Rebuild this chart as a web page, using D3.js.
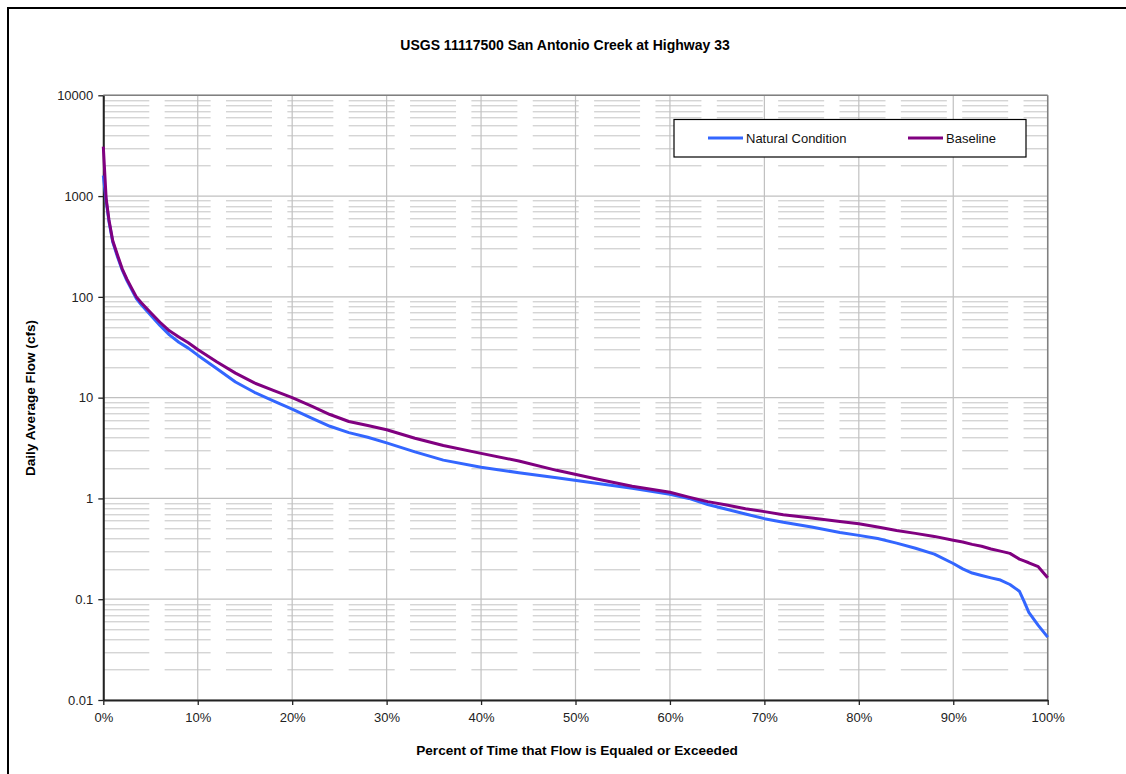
<!DOCTYPE html>
<html>
<head>
<meta charset="utf-8">
<script src="https://cdn.jsdelivr.net/npm/d3@7"></script>
<style>
  body { margin: 0; background: #fff; }
  svg { display: block; font-family: Arial, "Liberation Sans", sans-serif; }
</style>
</head>
<body>
<svg id="chart"></svg>
<script>
// percent of time (x) and flows (cfs)
var pct = [0, 0.3, 0.6, 1, 1.5, 2, 2.5, 3, 3.5, 4, 5, 6, 7, 8, 9, 10, 12, 14, 16, 18, 20, 22, 24, 26, 28, 30, 33, 36, 40, 44, 48, 52, 56, 60, 62, 64, 66, 68, 70, 72, 75, 78, 80, 82, 84, 86, 88, 90, 91, 92, 93, 94, 95, 96, 97, 97.5, 98, 99, 100];
var natural = [1600, 900, 560, 350, 250, 185, 145, 118, 96, 84, 66, 52, 42, 35.5, 31, 26.4, 19.5, 14.3, 11.3, 9.3, 7.7, 6.3, 5.2, 4.5, 4.05, 3.56, 2.9, 2.4, 2.04, 1.8, 1.6, 1.42, 1.26, 1.1, 1.0, 0.87, 0.78, 0.7, 0.63, 0.58, 0.52, 0.46, 0.43, 0.4, 0.36, 0.32, 0.28, 0.226, 0.2, 0.182, 0.172, 0.163, 0.155, 0.14, 0.12, 0.095, 0.074, 0.055, 0.042];
var baseline = [3100, 950, 580, 360, 260, 190, 150, 122, 100, 88, 70, 56, 46, 40, 35, 30, 22.7, 17.5, 14, 11.8, 10, 8.3, 6.8, 5.8, 5.3, 4.8, 3.95, 3.35, 2.8, 2.35, 1.9, 1.58, 1.32, 1.15, 1.03, 0.93, 0.86, 0.79, 0.74, 0.69, 0.64, 0.59, 0.56, 0.52, 0.48, 0.45, 0.42, 0.385, 0.37, 0.35, 0.335, 0.315, 0.3, 0.285, 0.25, 0.24, 0.23, 0.21, 0.163];

var yTicks = [0.01, 0.1, 1, 10, 100, 1000, 10000];
var xTicks = [0, 10, 20, 30, 40, 50, 60, 70, 80, 90, 100];

var series = [
  { name: "Natural Condition", values: natural, color: "#3366ff" },
  { name: "Baseline", values: baseline, color: "#800080" }
];

var W = 1126, H = 774;
var margin = { top: 95.3, right: 78.3, bottom: 74, left: 103.3 };
var width = W - margin.left - margin.right,
    height = H - margin.top - margin.bottom;

var svg = d3.select("#chart").attr("width", W).attr("height", H);

// outer frame
svg.append("rect")
  .attr("x", 8).attr("y", 8)
  .attr("width", 1140).attr("height", 800)
  .attr("fill", "none").attr("stroke", "#000").attr("stroke-width", 2);

var g = svg.append("g")
  .attr("transform", "translate(" + margin.left + "," + margin.top + ")");

var x = d3.scaleLinear().domain([0, 100]).range([0, width]);
var y = d3.scaleLog().domain([0.01, 10000]).range([height, 0]);

// minor horizontal gridlines (dashed)
var minor = [];
yTicks.slice(0, -1).forEach(function(d) {
  for (var k = 2; k <= 9; k++) minor.push(d * k);
});
g.selectAll(".minor").data(minor).enter().append("line")
  .attr("class", "minor")
  .attr("x1", 0).attr("x2", width)
  .attr("y1", function(d) { return Math.round(y(d)) + 0.5; })
  .attr("y2", function(d) { return Math.round(y(d)) + 0.5; })
  .attr("stroke", "#c4c4c4").attr("stroke-width", 1)
  .attr("stroke-dasharray", "46,15.35");

// major gridlines
g.selectAll(".hmaj").data(yTicks).enter().append("line")
  .attr("x1", 0).attr("x2", width)
  .attr("y1", function(d) { return y(d); })
  .attr("y2", function(d) { return y(d); })
  .attr("stroke", "#c0c0c0").attr("stroke-width", 1.2);
g.selectAll(".vmaj").data(xTicks).enter().append("line")
  .attr("x1", function(d) { return x(d); }).attr("x2", function(d) { return x(d); })
  .attr("y1", 0).attr("y2", height)
  .attr("stroke", "#c0c0c0").attr("stroke-width", 1.2);

// plot border top/right
g.append("line").attr("x1", 0).attr("x2", width).attr("y1", 0).attr("y2", 0)
  .attr("stroke", "#808080").attr("stroke-width", 1.5);
g.append("line").attr("x1", width).attr("x2", width).attr("y1", 0).attr("y2", height)
  .attr("stroke", "#808080").attr("stroke-width", 1.5);

// axes
var yAxis = g.append("g")
  .call(d3.axisLeft(y).tickValues(yTicks).tickFormat(function(d) { return String(d); }).tickSize(5).tickSizeOuter(0));
var xAxis = g.append("g")
  .attr("transform", "translate(0," + height + ")")
  .call(d3.axisBottom(x).tickValues(xTicks).tickFormat(function(d) { return d + "%"; }).tickSize(5).tickSizeOuter(0));
[yAxis, xAxis].forEach(function(a) {
  a.select(".domain").attr("stroke", "#222").attr("stroke-width", 2);
  a.selectAll(".tick line").attr("stroke", "#222").attr("stroke-width", 1.3);
  a.selectAll("text").attr("fill", "#222").style("font-size", "13px")
    .style("font-family", "Arial, 'Liberation Sans', sans-serif");
});
yAxis.selectAll("text").attr("x", -10);
xAxis.selectAll("text").attr("y", 13);

// lines
var line = d3.line()
  .x(function(d, i) { return x(pct[i]); })
  .y(function(d) { return y(d); });

g.selectAll(".series").data(series).enter().append("path")
  .attr("class", "series")
  .attr("d", function(d) { return line(d.values); })
  .attr("fill", "none")
  .attr("stroke", function(d) { return d.color; })
  .attr("stroke-width", 3)
  .attr("stroke-linejoin", "round");

// legend
var legend = svg.append("g").attr("transform", "translate(674,119.5)");
legend.append("rect")
  .attr("width", 352).attr("height", 37.5)
  .attr("fill", "#fff").attr("stroke", "#000").attr("stroke-width", 1.2);
var items = legend.selectAll(".legend").data(series).enter().append("g")
  .attr("transform", function(d, i) { return "translate(" + (34 + i * 200) + ",18.5)"; });
items.append("line")
  .attr("x1", 0).attr("x2", 35)
  .attr("stroke", function(d) { return d.color; })
  .attr("stroke-width", 3);
items.append("text")
  .attr("x", 38).attr("y", 4.5)
  .style("font-size", "13px").attr("fill", "#111")
  .text(function(d) { return d.name; });

// titles
svg.append("text")
  .attr("x", 565).attr("y", 50)
  .attr("text-anchor", "middle")
  .style("font-size", "14px").style("font-weight", "bold")
  .text("USGS 11117500 San Antonio Creek at Highway 33");

svg.append("text")
  .attr("x", 577).attr("y", 755)
  .attr("text-anchor", "middle")
  .style("font-size", "13.6px").style("font-weight", "bold")
  .text("Percent of Time that Flow is Equaled or Exceeded");

svg.append("text")
  .attr("transform", "translate(35,398) rotate(-90)")
  .attr("text-anchor", "middle")
  .style("font-size", "13.6px").style("font-weight", "bold")
  .text("Daily Average Flow (cfs)");
</script>
</body>
</html>
